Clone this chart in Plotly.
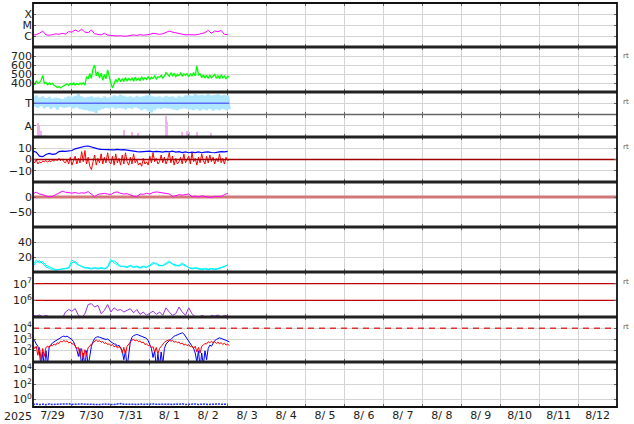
import pandas as pd
import plotly.graph_objects as go
from plotly.subplots import make_subplots

START = pd.Timestamp("2025-07-29 00:00")
END = pd.Timestamp("2025-08-13 00:00")
DATA_END = pd.Timestamp("2025-08-03 01:00")

# ---------------- data ----------------
# X-ray flux, log10 W/m2, every 2 h
xray_log10 = [-5.92, -5.88, -5.75, -5.55, -5.9, -5.93, -5.88, -5.8, -5.85, -5.75,
              -5.82, -5.6, -5.65, -5.45, -5.6, -5.38, -5.65, -5.7, -5.45, -5.8,
              -5.85, -5.9, -5.75, -5.92, -5.95, -5.98, -6.0, -5.97, -6.02, -6.0,
              -5.95, -5.9, -5.95, -5.88, -5.93, -5.9, -5.85, -5.75, -5.82, -5.85,
              -5.8, -5.7, -5.55, -5.65, -5.7, -5.75, -5.85, -5.9, -5.88, -5.92,
              -5.9, -5.85, -5.8, -5.7, -5.5, -5.75, -5.55, -5.6, -5.5, -5.85, -5.88]

# solar wind speed, km/s, hourly
sw_speed = [410, 385, 420, 395, 405, 430, 485, 395, 405, 380, 400, 385, 398, 372,
            365, 350, 360, 345, 358, 368, 375, 390, 372, 395, 380, 400, 378, 395, 382, 398,
            385, 402, 375, 470, 445, 505, 450, 560, 600, 480, 525, 455,
            510, 430, 495, 445, 545, 460, 395, 345, 400,
            440, 410, 455, 415, 445, 420, 460, 425, 450, 430,
            455, 420, 465, 432, 450, 428, 468, 435, 458, 440,
            470, 440, 465, 450, 478, 445, 470, 462, 485, 455, 475, 515,
            500, 475, 515, 480, 505, 470, 498, 482, 510, 478, 500, 485,
            505, 470, 500, 480, 515, 478, 590, 490, 500,
            460, 490, 455, 485, 450, 488, 458, 475, 495, 452, 480, 448, 490, 460, 478, 445, 475, 465]

# T panel (normalised), hourly
t_vals = [0.55, -0.3, 0.7, -0.4, 0.5, -0.25, 0.6, -0.45, 0.45, -0.3, 0.55, -0.5,
          0.4, -0.35, 0.5, -0.55, 0.45, -0.3, 0.35, -0.4, 0.5, -0.35, 0.6, -0.3,
          0.55, -0.45, 0.65, -0.35, 0.8, -0.5, 0.6, -0.55, 0.5, -0.6, 0.55, -0.7,
          0.6, -0.75, 0.5, -0.85, 0.55, -0.6, 0.45, -0.5, 0.6, -0.4, 0.5, -0.45,
          0.55, -0.35, 0.7, -0.5, 0.6, -0.4, 0.75, -0.45, 0.65, -0.55, 0.55, -0.4,
          0.6, -0.5, 0.5, -0.35, 0.65, -0.45, 0.55, -0.6, 0.6, -0.5, 0.7, -0.7,
          0.75, -0.8, 0.6, -0.6, 0.55, -0.45, 0.6, -0.5, 0.5, -0.4, 0.65, -0.45,
          0.55, -0.5, 0.6, -0.55, 0.5, -0.6, 0.65, -0.5, 0.55, -0.45, 0.7, -0.5,
          0.75, -0.55, 0.65, -0.6, 0.8, -0.5, 0.7, -0.65, 0.75, -0.55, 0.7, -0.6,
          0.8, -0.5, 0.7, -0.65, 0.75, -0.55, 0.8, -0.6, 0.7, -0.5, 0.75, -0.6,
          0.7, -0.55]
t_ref = [0, 0]

# A panel: event hours after start and heights
a_hours = [3, 4, 5, 56.5, 61, 65, 82, 83, 92, 95, 96.5, 101, 110]
a_vals = [6.5, 5.5, 3, 3.5, 2.5, 2, 9.5, 7, 2.5, 3, 2.5, 2.5, 2]
a_gray_hours = [3.5, 5.5, 7.5]
a_gray_vals = [0.8, 0.8, 0.8]

# IMF Bt (every 2 h) and Bz (hourly), nT
bt = [7.5, 6.5, 3.0, 2.5, 4.5, 5.5, 4.5, 5.0, 7.0, 7.5, 7.2, 7.8, 8.0, 9.5, 10.5, 11.5,
      11.8, 12.0, 11.0, 10.0, 9.5, 9.0, 8.8, 9.2, 8.7, 8.5, 9.0, 8.5, 8.8, 8.2, 7.8,
      7.5, 7.0, 6.8, 7.2, 7.0, 7.5, 6.8, 7.3, 7.0, 6.5, 7.2, 6.8, 7.5, 6.5, 7.0, 6.2,
      6.8, 6.0, 6.5, 6.2, 6.8, 6.0, 6.5, 6.8, 6.2, 6.0, 6.5, 7.0, 6.8, 7.2]
bz = [-1, -3, 0, -4, -2, -3,
      -1.5, -2, -1, -2.5, -1, -2, -0.5, -1.5,
      0, -1, 1, -1, 0.5, -2,
      -3, 0, -4, 2, -5, -1, 3, -4, 1, -3,
      7, -2, 8, -4, 2, -6, -9, -2, 4, -5, 1, -3,
      5, -4, 2, -3, 6, -2, -4, 3, -5, 5, -3, 1,
      -5, 4, -4, 6, -2, -5, 2, -4, 5, -3, 0, -5,
      -3, -6, 1, -4, -2, -5, 3, -3, 6, -2, 1, -4,
      -2, 4, -3, 2, -4, 0, 6, -3, 3, -5, 1, -4,
      -2, 2, -4, 5, -3, 0, 3, -4, 6, -2, 1, -5,
      2, -3, 5, -1, -4, 3, -3, 4, -2, 2, -4, 1,
      -2, 5, -3, 1, -4, 2, -1, 0]
bz_ref = [0, 0]

# Dst index, nT, every 2 h
dst = [11, 16, 10, 8, 3, 1, 2, 7, 12, 19, 16, 14, 13, 15, 12, 14, 13, 18, 8, 1,
       9, 11, 12, 10, 8, 15, 17, 12, 10, 11, 6, 3, 1, 10, 9, 12, 10, 15, 17, 16,
       13, 12, 10, 2, 4, 8, 6, 9, 10, 1, 3, 0, 4, 2, -1, -2, 2, 3, 2, 8, 12]
dst_ref = [0, 0]

# cyan pair, every 2 h
cyan_a = [10, 16, 12, 14, 9, 7, 4, 3, 3.5, 4, 5, 6, 16, 12, 9, 8, 5, 6, 5, 6,
          5, 6, 5, 7, 17, 12, 9, 7, 8, 7, 9, 7, 8, 6, 8, 7, 9, 13, 10, 8,
          9, 12, 15, 10, 8, 9, 12, 9, 6, 5, 6, 5, 4, 5, 4, 5, 4, 5, 6, 8, 9]
cyan_b = [8, 13, 15, 11, 7, 5, 3, 2.5, 3, 3.5, 4, 5, 12, 14, 10, 7, 6, 5, 4, 5,
          4, 5, 4, 6, 14, 15, 11, 8, 7, 6, 8, 6, 7, 5, 7, 6, 8, 11, 12, 9,
          8, 10, 13, 11, 9, 8, 10, 8, 5, 4, 5, 4, 3, 4, 3, 4, 3, 4, 5, 7, 10]

# purple series, log10, every 2 h
purple_log10 = [5.1, 5.05, 5.12, 5.0, 5.1, 5.02, 4.9, 4.9, 4.95, 4.9, 5.3, 5.45, 5.35,
                5.5, 5.1, 4.95, 5.2, 5.75, 5.8, 5.6, 5.7, 5.2, 5.4, 5.75, 5.3, 5.55,
                5.4, 5.45, 5.3, 5.4, 5.5, 5.25, 5.45, 5.15, 5.3, 5.1, 5.2, 5.35, 5.15,
                5.3, 5.1, 5.55, 5.3, 5.1, 5.2, 5.6, 5.3, 5.1, 5.55, 5.2, 5.0, 4.95,
                5.1, 5.0, 4.95, 5.1, 5.05, 5.12, 5.0, 5.1, 5.05]
purple_refs = [1e6, 1e7]

# electrons, log10, hourly
elec_blue_log10 = [3.0, 2.9, 2.6, 2.4, 1.8, 0.5, 1.9, 0.5, 2.0, 0.8, 2.4, 2.5, 2.7, 2.8,
                   2.9, 3.0, 3.1, 3.2, 3.25, 3.3, 3.25, 3.3, 3.2, 3.1, 3.0, 2.8, 2.5,
                   2.1, 1.5, 2.2, 0.5, 1.8, 0.5, 2.0, 0.6, 1.5, 2.4, 2.8, 3.1, 3.2,
                   3.25, 3.2, 3.15, 3.1, 3.1, 3.0, 3.05, 2.9, 2.8, 2.7, 2.6, 2.6, 2.4,
                   2.5, 2.2, 2.0, 1.2, 2.0, 0.5, 1.6, 2.8, 3.2, 3.35, 3.4, 3.45, 3.4,
                   3.35, 3.3, 3.25, 3.2, 3.1, 2.9, 2.6, 2.2, 1.4, 2.0, 0.5, 1.7, 0.6,
                   1.9, 0.8, 2.2, 2.6, 2.8, 2.9, 3.0, 3.2, 3.3, 3.35, 3.4, 3.5, 3.55,
                   3.6, 3.5, 3.3, 3.1, 2.8, 2.6, 2.4, 2.2, 1.8, 1.0, 2.0, 0.5, 1.8,
                   0.7, 2.0, 1.2, 2.2, 2.5, 2.4, 2.7, 2.9, 3.0, 3.1, 3.15, 3.1, 3.05,
                   3.0, 2.9, 2.85, 2.8]
elec_red_log10 = [2.5, 2.2, 2.4, 1.6, 2.3, 1.2, 2.2, 1.5, 2.3, 2.4, 2.3, 2.5, 2.45, 2.6,
                  2.5, 2.72, 2.65, 2.85, 2.78, 2.92, 2.8, 2.88, 2.7, 2.78, 2.6, 2.62,
                  2.4, 2.2, 2.3, 1.5, 2.2, 1.3, 2.1, 1.6, 2.3, 2.4, 2.6, 2.7, 2.85,
                  2.95, 2.82, 2.9, 2.75, 2.82, 2.65, 2.72, 2.55, 2.62, 2.45, 2.55,
                  2.35, 2.45, 2.25, 2.35, 2.3, 1.8, 2.3, 1.7, 2.4, 2.6, 2.8, 2.95,
                  3.0, 2.88, 2.95, 2.8, 2.88, 2.7, 2.78, 2.55, 2.62, 2.45, 2.5, 2.3,
                  2.35, 1.9, 2.3, 1.7, 2.2, 2.4, 2.6, 2.75, 2.85, 2.9, 2.98, 2.85,
                  2.92, 2.75, 2.85, 2.7, 2.78, 2.6, 2.7, 2.5, 2.6, 2.45, 2.55, 2.35,
                  2.45, 2.2, 2.4, 1.9, 2.3, 1.8, 2.4, 2.5, 2.65, 2.6, 2.8, 2.7, 2.85,
                  2.72, 2.8, 2.65, 2.78, 2.6, 2.72, 2.55, 2.68, 2.5, 2.6, 2.45]
elec_ref = [1e4, 1e4]

# bottom panel, log10, every 2 h
bottom_log10 = [-0.65, -0.6, -0.68, -0.62, -0.7, -0.6, -0.66, -0.63, -0.7, -0.62,
                -0.64, -0.58, -0.66, -0.62, -0.68, -0.6, -0.64, -0.66, -0.6, -0.68,
                -0.62, -0.66, -0.6, -0.65, -0.62, -0.68, -0.6, -0.55, -0.64, -0.6,
                -0.66, -0.62, -0.68, -0.6, -0.65, -0.62, -0.66, -0.6, -0.64, -0.62,
                -0.6, -0.66, -0.62, -0.68, -0.6, -0.64, -0.58, -0.66, -0.62, -0.64,
                -0.6, -0.66, -0.62, -0.6, -0.66, -0.62, -0.64, -0.6, -0.62, -0.66, -0.62]

DATE_LABEL_FMT = "%-m/%e"

# ---------------- figure ----------------
def times(n, step_h):
    return pd.date_range(START, periods=n, freq=f"{step_h}h")

def hrs(h_list):
    return [START + pd.Timedelta(hours=h) for h in h_list]

span = [START, DATA_END]
full = [START, END]

row_px = [44, 45, 22.5, 22.5, 45, 45, 45, 45, 45, 45]
fig = make_subplots(rows=10, cols=1, shared_xaxes=True, vertical_spacing=0,
                    row_heights=row_px)

def line(x, y, color, row, width=1.0, dash=None):
    fig.add_trace(go.Scatter(x=x, y=y, mode="lines",
                             line=dict(color=color, width=width, dash=dash),
                             hoverinfo="skip", showlegend=False), row=row, col=1)

line(times(len(xray_log10), 2), [10 ** v for v in xray_log10], "#ff00ff", 1)
line(times(len(sw_speed), 1), sw_speed, "#00ff00", 2, 1.3)
line(times(len(t_vals), 1), t_vals, "#aee6ff", 3, 3.0)
line(span, t_ref, "#5b6cf5", 3, 1.5)
fig.add_trace(go.Bar(x=hrs(a_gray_hours), y=a_gray_vals, marker_color="#c8c8c8",
                     width=3600000 * 1.2, showlegend=False, hoverinfo="skip"), row=4, col=1)
fig.add_trace(go.Bar(x=hrs(a_hours), y=a_vals, marker_color="#f2b0f2",
                     marker_line_width=0, width=3600000 * 0.9,
                     showlegend=False, hoverinfo="skip"), row=4, col=1)
line(times(len(bt), 2), bt, "#0000ff", 5, 1.2)
line(times(len(bz), 1), bz, "#ff0000", 5, 1.0)
line(full, bz_ref, "#a00000", 5, 1.3)
line(full, dst_ref, "#d07878", 6, 3)
line(times(len(dst), 2), dst, "#ff00ff", 6, 1.0)
line(times(len(cyan_a), 2), cyan_a, "#00ffff", 7, 1.0)
line(times(len(cyan_b), 2), cyan_b, "#00e8ff", 7, 1.0)
for r in purple_refs:
    line(full, [r, r], "#c00000", 8, 1.3)
line(times(len(purple_log10), 2), [10 ** v for v in purple_log10], "#9b30d8", 8, 1.0)
line(times(len(elec_blue_log10), 1), [10 ** v for v in elec_blue_log10], "#0000ff", 9, 1.0)
line(times(len(elec_red_log10), 1), [10 ** v for v in elec_red_log10], "#ff0000", 9, 1.0)
line(full, elec_ref, "#dd3333", 9, 1.4, "6px,5px")
line(times(len(bottom_log10), 2), [10 ** v for v in bottom_log10], "#2030ff", 10, 1.5, "2px,1px")

GRID = "#d4d4d4"
TICKFONT = dict(family="DejaVu Sans", size=11, color="#222")

def sup(n):
    return f"10<sup>{n}</sup>"

yaxes = {
    1: dict(type="log", range=[-7, -3], tickvals=[1e-4, 1e-5, 1e-6], ticktext=["X", "M", "C"]),
    2: dict(range=[300, 800], tickvals=[400, 500, 600, 700]),
    3: dict(range=[-1, 1], tickvals=[0], ticktext=["T"]),
    4: dict(range=[0, 10], tickvals=[5], ticktext=["A"]),
    5: dict(range=[-20, 20], tickvals=[-10, 0, 10]),
    6: dict(range=[-100, 50], tickvals=[-50, 0]),
    7: dict(range=[0, 60], tickvals=[20, 40]),
    8: dict(type="log", range=[5, 7.7], tickvals=[1e6, 1e7], ticktext=[sup(6), sup(7)]),
    9: dict(type="log", range=[1, 5], tickvals=[1e2, 1e3, 1e4], ticktext=[sup(2), sup(3), sup(4)]),
    10: dict(type="log", range=[-1, 5], tickvals=[1, 1e2, 1e4], ticktext=[sup(0), sup(2), sup(4)]),
}
for r, cfg in yaxes.items():
    fig.update_yaxes(row=r, col=1, showgrid=True, gridcolor=GRID, gridwidth=1,
                     zeroline=False, showline=False, ticks="inside", ticklen=3,
                     tickcolor="#666", mirror="ticks", tickfont=TICKFONT,
                     fixedrange=True, automargin=False, **cfg)

fig.update_xaxes(range=[START, END], showgrid=True, gridcolor=GRID, gridwidth=1,
                 dtick=86400000, tick0=START, ticks="inside", ticklen=3,
                 tickcolor="#666", mirror="ticks", zeroline=False, showline=False,
                 tickfont=TICKFONT, automargin=False)
fig.update_xaxes(row=10, col=1, showticklabels=True, tickformat=DATE_LABEL_FMT,
                 ticklabelmode="period")

W, H = 634, 424
ML, MR, MT, MB = 33, 17, 3, 17
PH = H - MT - MB

def py(y):
    return (H - MB - y) / PH

shapes = []
for yb in [47, 92, 137, 182, 227, 272, 317, 362]:
    shapes.append(dict(type="line", xref="paper", yref="paper", x0=0, x1=1,
                       y0=py(yb), y1=py(yb), line=dict(color="#222", width=3)))
shapes.append(dict(type="line", xref="paper", yref="paper", x0=0, x1=1,
                   y0=py(114.5), y1=py(114.5), line=dict(color="#666", width=1.5)))
shapes.append(dict(type="rect", xref="paper", yref="paper", x0=0, x1=1, y0=0, y1=1,
                   line=dict(color="#111", width=1.8)))

annotations = [dict(text="2025", xref="paper", yref="paper", x=(18 - ML) / (W - ML - MR),
                    y=py(416), showarrow=False, font=TICKFONT, xanchor="center",
                    yanchor="middle")]
for yr in [56, 102, 147, 282, 327]:
    annotations.append(dict(text="rt", xref="paper", yref="paper",
                            x=(621 - ML) / (W - ML - MR), y=py(yr), showarrow=False,
                            xanchor="left", yanchor="middle",
                            font=dict(family="DejaVu Sans", size=7, color="#555")))

fig.update_layout(width=W, height=H, margin=dict(l=ML, r=MR, t=MT, b=MB, autoexpand=False),
                  paper_bgcolor="white", plot_bgcolor="white", showlegend=False,
                  barmode="overlay", bargap=0, shapes=shapes, annotations=annotations,
                  font=dict(family="DejaVu Sans"))

fig.write_html("out.html", config={"displayModeBar": False},
               post_script="document.body.style.margin='0';document.body.style.padding='0';"
                           "document.body.style.overflow='hidden';")
